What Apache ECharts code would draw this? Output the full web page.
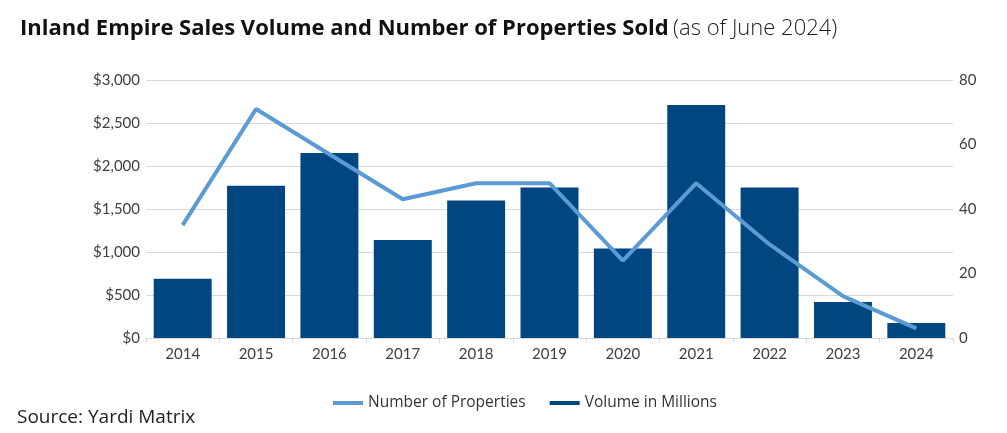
<!DOCTYPE html>
<html>
<head>
<meta charset="utf-8">
<script src="https://cdn.jsdelivr.net/npm/echarts@6/dist/echarts.min.js"></script>
<style>
  html, body { margin: 0; padding: 0; background: #fff; }
  #chart { width: 1007px; height: 433px; }
</style>
</head>
<body>
<div id="chart"></div>
<script>
const years = ["2014", "2015", "2016", "2017", "2018", "2019", "2020", "2021", "2022", "2023", "2024"];
const volumeMillions = [690, 1770, 2150, 1140, 1600, 1750, 1040, 2710, 1750, 420, 175];
const numProperties = [35, 71, 57, 43, 48, 48, 24, 48, 29, 13, 3];

const font = "Lato, 'Noto Sans', sans-serif";
const wide = "'Open Sans', 'Noto Sans', sans-serif";

echarts.init(document.getElementById("chart")).setOption({
  animation: false,
  textStyle: { fontFamily: font },
  title: [
    {
      text: "{b|Inland Empire Sales Volume and Number of Properties Sold} {l|(as of June 2024)}",
      left: 15,
      top: 13,
      textStyle: {
        rich: {
          b: { fontFamily: wide, fontWeight: "bold", fontSize: 22, color: "#111" },
          l: { fontFamily: wide, fontWeight: 300, fontSize: 22, color: "#222" }
        }
      }
    },
    {
      text: "Source: Yardi Matrix",
      left: 12,
      top: 403,
      textStyle: { fontFamily: wide, fontWeight: "normal", fontSize: 19, color: "#222" }
    }
  ],
  legend: {
    bottom: 17,
    left: 328,
    itemWidth: 30,
    itemHeight: 4,
    itemGap: 24,
    textStyle: { fontSize: 15.5, color: "#333", fontFamily: wide },
    data: [
      { name: "Number of Properties", icon: "rect" },
      { name: "Volume in Millions", icon: "rect" }
    ]
  },
  grid: { left: 146, right: 54, top: 80, bottom: 95 },
  xAxis: {
    type: "category",
    data: years,
    axisLine: { lineStyle: { color: "#d9d9d9" } },
    axisTick: { show: true, alignWithLabel: false, length: 5, lineStyle: { color: "#d9d9d9" } },
    axisLabel: { color: "#404040", fontSize: 15, margin: 9 }
  },
  yAxis: [
    {
      type: "value",
      min: 0,
      max: 3000,
      interval: 500,
      axisLine: { show: false },
      axisTick: { show: false },
      axisLabel: {
        color: "#404040",
        fontSize: 15,
        margin: 6,
        formatter: v => "$" + v.toLocaleString("en-US")
      },
      splitLine: { lineStyle: { color: "#d9d9d9" } }
    },
    {
      type: "value",
      min: 0,
      max: 80,
      interval: 20,
      axisLine: { show: false },
      axisTick: { show: false },
      axisLabel: { color: "#404040", fontSize: 15, margin: 6 },
      splitLine: { show: false }
    }
  ],
  series: [
    {
      name: "Volume in Millions",
      type: "bar",
      data: volumeMillions,
      barCategoryGap: "21%",
      itemStyle: { color: "#004680" },
      z: 1
    },
    {
      name: "Number of Properties",
      type: "line",
      yAxisIndex: 1,
      data: numProperties,
      symbol: "none",
      lineStyle: { color: "#5b9bd5", width: 4 },
      itemStyle: { color: "#5b9bd5" },
      z: 3
    }
  ]
});
</script>
</body>
</html>
